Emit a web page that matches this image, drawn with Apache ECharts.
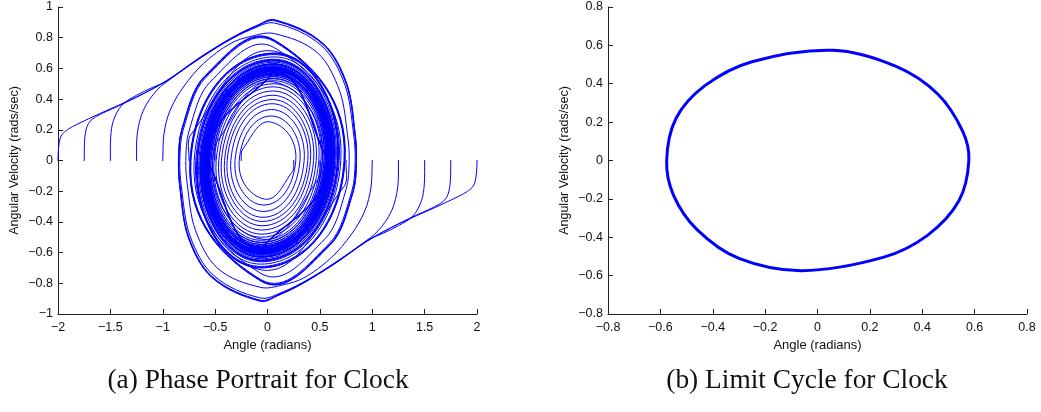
<!DOCTYPE html>
<html><head><meta charset="utf-8">
<script src="https://cdn.jsdelivr.net/npm/echarts@6/dist/echarts.min.js"></script>
<style>html,body{margin:0;padding:0;background:#fff}#c{width:1041px;height:412px}</style>
</head><body><div id="c"></div>
<script>
// ---------- Panel (a): phase portrait trajectories, [angle, angular velocity] ----------
const phaseFromMinus200 = [[-2,0],[-1.995,0.08],[-1.97,0.16],[-1.9,0.205],[-1.82,0.235],[-1.6,0.306],[-1.25,0.414],[-0.96,0.522],[-0.64,0.674],[-0.33,0.804],[-0.1,0.88],[0.07,0.917],[0.534,0.761],[0.757,0.5],[0.837,0.176],[0.85,0],[0.82,-0.2],[0.6,-0.55],[-0.065,-0.785],[-0.74,0],[0.065,0.70],[0.675,0],[-0.06,-0.655],[-0.64,0],[0.06,0.63],[0.62,0],[-0.06,-0.612],[-0.605,0],[0.06,0.60],[0.596,0],[-0.06,-0.592],[-0.589,0],[0.06,0.587],[0.585,0],[-0.06,-0.583],[-0.582,0],[0.06,0.581],[0.58,0]];
const phaseFromMinus175 = [[-1.75,0],[-1.743,0.154],[-1.71,0.24],[-1.63,0.288],[-1.44,0.35],[-1.25,0.412],[-0.96,0.52],[-0.64,0.672],[-0.33,0.802],[-0.1,0.878],[0.07,0.914],[0.534,0.758],[0.757,0.498],[0.836,0.175],[0.848,0],[0.818,-0.2],[0.598,-0.548],[-0.065,-0.783],[-0.738,0],[0.065,0.698],[0.673,0],[-0.06,-0.653],[-0.638,0],[0.06,0.628],[0.618,0],[-0.06,-0.61],[-0.603,0],[0.06,0.598],[0.594,0],[-0.06,-0.59],[-0.587,0],[0.06,0.585],[0.583,0],[-0.06,-0.581],[-0.58,0],[0.06,0.579]];
const phaseFromMinus150 = [[-1.5,0],[-1.497,0.154],[-1.47,0.262],[-1.39,0.36],[-1.25,0.425],[-1.1,0.475],[-0.96,0.518],[-0.64,0.67],[-0.33,0.8],[-0.1,0.875],[0.07,0.91],[0.53,0.755],[0.752,0.496],[0.832,0.174],[0.845,0],[0.815,-0.2],[0.595,-0.545],[-0.065,-0.78],[-0.735,0],[0.065,0.695],[0.67,0],[-0.06,-0.65],[-0.636,0],[0.06,0.626],[0.616,0],[-0.06,-0.608],[-0.601,0],[0.06,0.596],[0.592,0],[-0.06,-0.588],[-0.585,0],[0.06,0.583],[0.581,0],[-0.06,-0.58],[-0.579,0]];
const phaseFromMinus125 = [[-1.25,0],[-1.243,0.176],[-1.185,0.327],[-1.057,0.457],[-0.9,0.544],[-0.7,0.64],[-0.4,0.77],[-0.15,0.855],[0.07,0.895],[0.52,0.745],[0.74,0.49],[0.822,0.172],[0.837,0],[0.805,-0.2],[0.59,-0.54],[-0.065,-0.775],[-0.73,0],[0.065,0.69],[0.667,0],[-0.06,-0.648],[-0.634,0],[0.06,0.624],[0.614,0],[-0.06,-0.606],[-0.6,0],[0.06,0.595],[0.591,0],[-0.06,-0.587],[-0.584,0],[0.06,0.582],[0.58,0]];
const phaseFromMinus100 = [[-1,0],[-0.988,0.174],[-0.93,0.327],[-0.803,0.479],[-0.612,0.631],[-0.357,0.761],[-0.15,0.81],[0.07,0.826],[0.48,0.7],[0.69,0.45],[0.765,0.16],[0.78,0],[0.75,-0.19],[0.55,-0.51],[-0.065,-0.735],[-0.70,0],[0.065,0.675],[0.655,0],[-0.06,-0.64],[-0.628,0],[0.06,0.618],[0.61,0],[-0.06,-0.603],[-0.597,0],[0.06,0.592],[0.589,0],[-0.06,-0.585],[-0.582,0],[0.06,0.58]];
const phaseFromPlus200 = [[2,0],[1.995,-0.08],[1.97,-0.16],[1.9,-0.205],[1.82,-0.235],[1.6,-0.306],[1.25,-0.414],[0.96,-0.522],[0.64,-0.674],[0.33,-0.804],[0.1,-0.88],[-0.07,-0.917],[-0.534,-0.761],[-0.757,-0.5],[-0.837,-0.176],[-0.85,0],[-0.82,0.2],[-0.6,0.55],[0.065,0.785],[0.74,0],[-0.065,-0.70],[-0.675,0],[0.06,0.655],[0.64,0],[-0.06,-0.63],[-0.62,0],[0.06,0.612],[0.605,0],[-0.06,-0.60],[-0.596,0],[0.06,0.592],[0.589,0],[-0.06,-0.587],[-0.585,0],[0.06,0.583],[0.582,0],[-0.06,-0.581],[-0.58,0]];
const phaseFromPlus175 = [[1.75,0],[1.743,-0.154],[1.71,-0.24],[1.63,-0.288],[1.44,-0.35],[1.25,-0.412],[0.96,-0.52],[0.64,-0.672],[0.33,-0.802],[0.1,-0.878],[-0.07,-0.914],[-0.534,-0.758],[-0.757,-0.498],[-0.836,-0.175],[-0.848,0],[-0.818,0.2],[-0.598,0.548],[0.065,0.783],[0.738,0],[-0.065,-0.698],[-0.673,0],[0.06,0.653],[0.638,0],[-0.06,-0.628],[-0.618,0],[0.06,0.61],[0.603,0],[-0.06,-0.598],[-0.594,0],[0.06,0.59],[0.587,0],[-0.06,-0.585],[-0.583,0],[0.06,0.581],[0.58,0],[-0.06,-0.579]];
const phaseFromPlus150 = [[1.5,0],[1.497,-0.154],[1.47,-0.262],[1.39,-0.36],[1.25,-0.425],[1.1,-0.475],[0.96,-0.518],[0.64,-0.67],[0.33,-0.8],[0.1,-0.875],[-0.07,-0.91],[-0.53,-0.755],[-0.752,-0.496],[-0.832,-0.174],[-0.845,0],[-0.815,0.2],[-0.595,0.545],[0.065,0.78],[0.735,0],[-0.065,-0.695],[-0.67,0],[0.06,0.65],[0.636,0],[-0.06,-0.626],[-0.616,0],[0.06,0.608],[0.601,0],[-0.06,-0.596],[-0.592,0],[0.06,0.588],[0.585,0],[-0.06,-0.583],[-0.581,0],[0.06,0.58],[0.579,0]];
const phaseFromPlus125 = [[1.25,0],[1.243,-0.176],[1.185,-0.327],[1.057,-0.457],[0.9,-0.544],[0.7,-0.64],[0.4,-0.77],[0.15,-0.855],[-0.07,-0.895],[-0.52,-0.745],[-0.74,-0.49],[-0.822,-0.172],[-0.837,0],[-0.805,0.2],[-0.59,0.54],[0.065,0.775],[0.73,0],[-0.065,-0.69],[-0.667,0],[0.06,0.648],[0.634,0],[-0.06,-0.624],[-0.614,0],[0.06,0.606],[0.6,0],[-0.06,-0.595],[-0.591,0],[0.06,0.587],[0.584,0],[-0.06,-0.582],[-0.58,0]];
const phaseFromPlus100 = [[1,0],[0.988,-0.174],[0.93,-0.327],[0.803,-0.479],[0.612,-0.631],[0.357,-0.761],[0.15,-0.81],[-0.07,-0.826],[-0.48,-0.7],[-0.69,-0.45],[-0.765,-0.16],[-0.78,0],[-0.75,0.19],[-0.55,0.51],[0.065,0.735],[0.70,0],[-0.065,-0.675],[-0.655,0],[0.06,0.64],[0.628,0],[-0.06,-0.618],[-0.61,0],[0.06,0.603],[0.597,0],[-0.06,-0.592],[-0.589,0],[0.06,0.585],[0.582,0],[-0.06,-0.58]];
const phaseFromMinus025 = [[-0.25,0],[-0.24,0.07],[0.03,0.251],[0.27,0],[-0.035,-0.29],[-0.31,0],[0.04,0.332],[0.35,0],[-0.045,-0.37],[-0.385,0],[0.05,0.397],[0.41,0],[-0.05,-0.425],[-0.44,0],[0.055,0.453],[0.465,0],[-0.055,-0.48],[-0.49,0],[0.06,0.5],[0.51,0],[-0.06,-0.52],[-0.527,0],[0.06,0.535],[0.54,0],[-0.06,-0.547],[-0.552,0],[0.06,0.557],[0.56,0],[-0.06,-0.564],[-0.567,0],[0.06,0.569],[0.571,0],[-0.06,-0.573],[-0.574,0],[0.06,0.576]];
const phaseFromPlus025 = [[0.25,0],[0.24,-0.07],[-0.03,-0.251],[-0.27,0],[0.035,0.29],[0.31,0],[-0.04,-0.332],[-0.35,0],[0.045,0.37],[0.385,0],[-0.05,-0.397],[-0.41,0],[0.05,0.425],[0.44,0],[-0.055,-0.453],[-0.465,0],[0.055,0.48],[0.49,0],[-0.06,-0.5],[-0.51,0],[0.06,0.52],[0.527,0],[-0.06,-0.535],[-0.54,0],[0.06,0.547],[0.552,0],[-0.06,-0.557],[-0.56,0],[0.06,0.564],[0.567,0],[-0.06,-0.569],[-0.571,0],[0.06,0.573],[0.574,0],[-0.06,-0.576]];
const phaseFromMinus050 = [[-0.5,0],[-0.485,0.12],[0.06,0.512],[0.522,0],[-0.06,-0.532],[-0.54,0],[0.06,0.546],[0.551,0],[-0.06,-0.556],[-0.56,0],[0.06,0.563],[0.566,0],[-0.06,-0.569],[-0.571,0],[0.06,0.573],[0.575,0]];
const phaseFromPlus050 = [[0.5,0],[0.485,-0.12],[-0.06,-0.512],[-0.522,0],[0.06,0.532],[0.54,0],[-0.06,-0.546],[-0.551,0],[0.06,0.556],[0.56,0],[-0.06,-0.563],[-0.566,0],[0.06,0.569],[0.571,0],[-0.06,-0.573],[-0.575,0]];
const phaseFromMinus075 = [[-0.75,0],[-0.73,0.17],[0.065,0.712],[0.685,0],[-0.06,-0.66],[-0.645,0],[0.06,0.63],[0.62,0],[-0.06,-0.61],[-0.602,0],[0.06,0.595],[0.59,0],[-0.06,-0.586],[-0.583,0],[0.06,0.58]];
const phaseFromPlus075 = [[0.75,0],[0.73,-0.17],[-0.065,-0.712],[-0.685,0],[0.06,0.66],[0.645,0],[-0.06,-0.63],[-0.62,0],[0.06,0.61],[0.602,0],[-0.06,-0.595],[-0.59,0],[0.06,0.586],[0.583,0],[-0.06,-0.58]];

// ---------- Panel (b): limit cycle (closed loop) ----------
const limitCycle = [[-0.576,0],[-0.54,0.22],[-0.43,0.39],[-0.25,0.515],[0.06,0.574],[0.3,0.49],[0.46,0.345],[0.555,0.15],[0.578,0],[0.54,-0.21],[0.42,-0.39],[0.25,-0.505],[-0.06,-0.574],[-0.3,-0.51],[-0.46,-0.36],[-0.55,-0.18],[-0.576,0]];

// ---------- Axis ranges / labels ----------
const leftX = {min:-2, max:2, step:0.5};
const leftY = {min:-1, max:1, step:0.2};
const rightX = {min:-0.8, max:0.8, step:0.2};
const rightY = {min:-0.8, max:0.8, step:0.2};
const xName = 'Angle (radians)';
const yName = 'Angular Velocity (rads/sec)';
const captions = ['(a) Phase Portrait for Clock', '(b) Limit Cycle for Clock'];

const phaseTrajectories = [phaseFromMinus200, phaseFromMinus175, phaseFromMinus150, phaseFromMinus125, phaseFromMinus100,
  phaseFromPlus200, phaseFromPlus175, phaseFromPlus150, phaseFromPlus125, phaseFromPlus100,
  phaseFromMinus075, phaseFromPlus075, phaseFromMinus050, phaseFromPlus050, phaseFromMinus025, phaseFromPlus025];

const FONT = '"Liberation Sans", Arial, Helvetica, sans-serif';
const fmt = v => String(+v.toFixed(2)).replace('-', '\u2212');
function mkX(idx, r) {
  return {gridIndex: idx, type:'value', min:r.min, max:r.max, interval:r.step,
    name: xName, nameLocation:'middle', nameGap: 21,
    nameTextStyle:{fontFamily:FONT, fontSize:13, color:'#111'},
    axisLine:{show:true, onZero:false, lineStyle:{color:'#222', width:1}},
    axisTick:{show:true, inside:true, length:5, lineStyle:{color:'#222'}},
    axisLabel:{formatter: fmt, fontFamily:FONT, fontSize:12.5, color:'#111', margin:7},
    splitLine:{show:false}};
}
function mkY(idx, r) {
  return {gridIndex: idx, type:'value', min:r.min, max:r.max, interval:r.step,
    name: yName, nameLocation:'middle', nameGap: 37, nameRotate: 90,
    nameTextStyle:{fontFamily:FONT, fontSize:12.5, color:'#111'},
    axisLine:{show:true, onZero:false, lineStyle:{color:'#222', width:1}},
    axisTick:{show:true, inside:true, length:5, lineStyle:{color:'#222'}},
    axisLabel:{formatter: fmt, fontFamily:FONT, fontSize:12.5, color:'#111', margin:5},
    splitLine:{show:false}};
}

// Smooth curve through the data points: cubic Bezier control points are
// computed in data space (where the loops are near-circular) and then mapped
// to pixels through the axis scales (api.coord); an affine map keeps Beziers exact.
function curvePath(pts, api) {
  const n = pts.length, ctrl = [];
  const closed = n > 3 && pts[0][0] === pts[n-1][0] && pts[0][1] === pts[n-1][1];
  for (let i = 0; i < n; i++) {
    const p = pts[i];
    let prev = i > 0 ? pts[i-1] : (closed ? pts[n-2] : p);
    let next = i < n-1 ? pts[i+1] : (closed ? pts[1] : p);
    const vx = next[0]-prev[0], vy = next[1]-prev[1];
    const lp = Math.hypot(p[0]-prev[0], p[1]-prev[1]);
    const ln = Math.hypot(next[0]-p[0], next[1]-p[1]);
    let s = 1/3;
    if (lp > 0 && ln > 0) {
      const a1 = Math.atan2(p[1]-prev[1], p[0]-prev[0]);
      const a2 = Math.atan2(next[1]-p[1], next[0]-p[0]);
      let phi = Math.abs(a2-a1); if (phi > Math.PI) phi = 2*Math.PI - phi;
      if (phi > 1e-3) s = Math.min(0.7, (4/3)*Math.tan(phi/4)/Math.sin(Math.min(phi, 2.0)));
    }
    const tot = (lp + ln) || 1;
    ctrl.push({
      out: [p[0] + vx*s*ln/tot, p[1] + vy*s*ln/tot],
      inn: [p[0] - vx*s*lp/tot, p[1] - vy*s*lp/tot]
    });
  }
  const P = q => api.coord(q);
  const f = c => c[0].toFixed(2) + ' ' + c[1].toFixed(2);
  let d = 'M' + f(P(pts[0]));
  for (let i = 0; i < n-1; i++) {
    d += 'C' + f(P(ctrl[i].out)) + ' ' + f(P(ctrl[i+1].inn)) + ' ' + f(P(pts[i+1]));
  }
  return d;
}
function curveSeries(data, gi, width) {
  return {
    type:'custom', coordinateSystem:'cartesian2d', xAxisIndex:gi, yAxisIndex:gi,
    data: data, encode:{x:0, y:1}, silent:true,
    renderItem: (params, api) => params.dataIndex !== 0 ? null : {
      type:'path', shape:{pathData: curvePath(data, api)},
      style:{fill:'none', stroke:'#0000ff', lineWidth:width, lineJoin:'round', lineCap:'round'}
    }
  };
}

const series = phaseTrajectories.map(d => curveSeries(d, 0, 1));
series.push(curveSeries(limitCycle, 1, 3));

const chart = echarts.init(document.getElementById('c'), null, {renderer:'canvas'});
const capFont = '27.4px "Liberation Serif", "Times New Roman", serif';
chart.setOption({
  animation:false,
  backgroundColor:'#ffffff',
  grid:[{left:58, top:7, width:419, height:307}, {left:608, top:7, width:419, height:307}],
  xAxis:[mkX(0,leftX), mkX(1,rightX)],
  yAxis:[mkY(0,leftY), mkY(1,rightY)],
  series: series,
  graphic:[
    {type:'text', x:258, y:381, style:{text:captions[0], align:'center', verticalAlign:'middle', font:capFont, fill:'#111'}},
    {type:'text', x:807, y:381, style:{text:captions[1], align:'center', verticalAlign:'middle', font:capFont, fill:'#111'}}
  ]
});
</script></body></html>
